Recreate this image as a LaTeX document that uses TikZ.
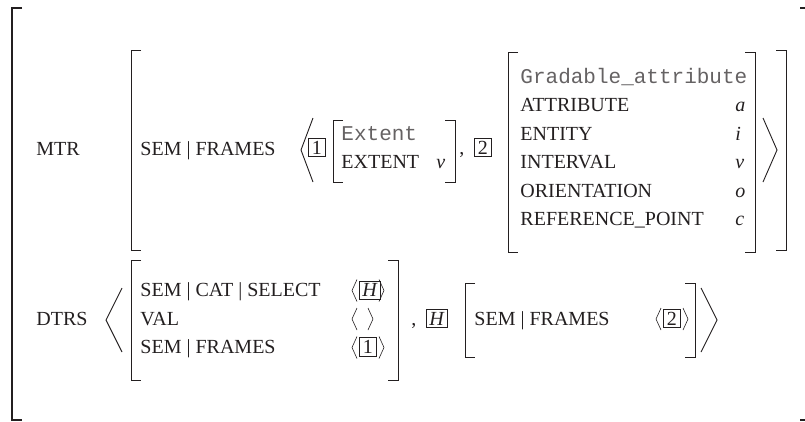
\documentclass[tikz,border=0pt]{standalone}
\usepackage{fontspec}
\setmainfont{Liberation Serif}
\setmonofont{Liberation Mono}
\definecolor{ink}{HTML}{231F20}
\newcommand\avmsq[4]{\draw (#1+10,#3)--(#1,#3)--(#1,#4)--(#1+10,#4);\draw (#2-10,#3)--(#2,#3)--(#2,#4)--(#2-10,#4);}
\newcommand\avmlangle[2]{\draw[line width=.6pt] (#1+5,#2-17)--(#1,#2-6)--(#1+5,#2+5);}
\newcommand\avmrangle[2]{\draw[line width=.6pt] (#1,#2-17)--(#1+5,#2-6)--(#1,#2+5);}

\begin{document}
\begin{tikzpicture}[x=1pt,y=-1pt,ink,line width=.9pt,
  lab/.style={anchor=base west,inner sep=0pt,font=\fontsize{20}{24}\selectfont},
  typ/.style={lab,text=ink!70,font=\ttfamily\fontsize{21}{24}\selectfont},
  val/.style={lab,font=\itshape\fontsize{20}{24}\selectfont},
  tag/.style={lab,draw,line width=.7pt,inner xsep=3pt,inner ysep=2.5pt,minimum width=17pt}]
\useasboundingbox (0,0) rectangle (805,421);
\draw[line width=1.3pt] (22,8)--(12,8)--(12,420)--(22,420);
\draw[line width=1.3pt] (800,8)--(805,8) (800,420)--(805,420);

\node[lab] (mtr) at (36,155) {MTR};
\avmsq{131}{786}{50}{250}
\node[lab] (mtrsem) at (140,155) {SEM | FRAMES};
\draw (313,118)--(301,150)--(313,182);
\node[tag] (tagA) at (308,154) {1};
\avmsq{333}{455}{120}{182}
\node[typ] (extent) at (341,140) {Extent};
\node[lab] (extattr) at (341,168.5) {EXTENT};
\node[val] (extval) at (436,168.5) {v};
\node[lab] (commaA) at (459,154) {,};
\node[tag] (tagB) at (474,154) {2};
\avmsq{508}{755}{52}{252}
\node[typ] (grad) at (520,83) {Gradable\_attribute};
\foreach \f/\v [count=\i] in {ATTRIBUTE/a,ENTITY/i,INTERVAL/v,ORIENTATION/o,REFERENCE\_POINT/c}{
  \node[lab] (feat\i) at (520,83+28.5*\i) {\f};
  \node[val] (val\i) at (735,83+28.5*\i) {\v};}
\draw (763,118)--(777,150)--(763,182);

\node[lab] (dtrs) at (36,325) {DTRS};
\draw (122,288)--(106,320)--(122,352);
\avmsq{131}{398}{260}{380}
\node[lab] (select) at (140,296.5) {SEM | CAT | SELECT};
\node[lab] (valence) at (140,325) {VAL};
\node[lab] (dtrsem) at (140,353.5) {SEM | FRAMES};
\avmlangle{352}{296.5}\node[tag] (tagH) at (359,296.5) {\textit{H}};\avmrangle{379}{296.5}
\avmlangle{352}{325}\avmrangle{368}{325}
\avmlangle{352}{353.5}\node[tag] (tagC) at (359,353.5) {1};\avmrangle{379}{353.5}
\node[lab] (commaB) at (411,325) {,};
\node[tag] (tagD) at (426,325) {\textit{H}};
\avmsq{465}{695}{283}{357}
\node[lab] (headsem) at (474,325) {SEM | FRAMES};
\avmlangle{656}{325}\node[tag] (tagE) at (663,325) {2};\avmrangle{683}{325}
\draw (701,288)--(717,320)--(701,352);
\end{tikzpicture}
\end{document}
